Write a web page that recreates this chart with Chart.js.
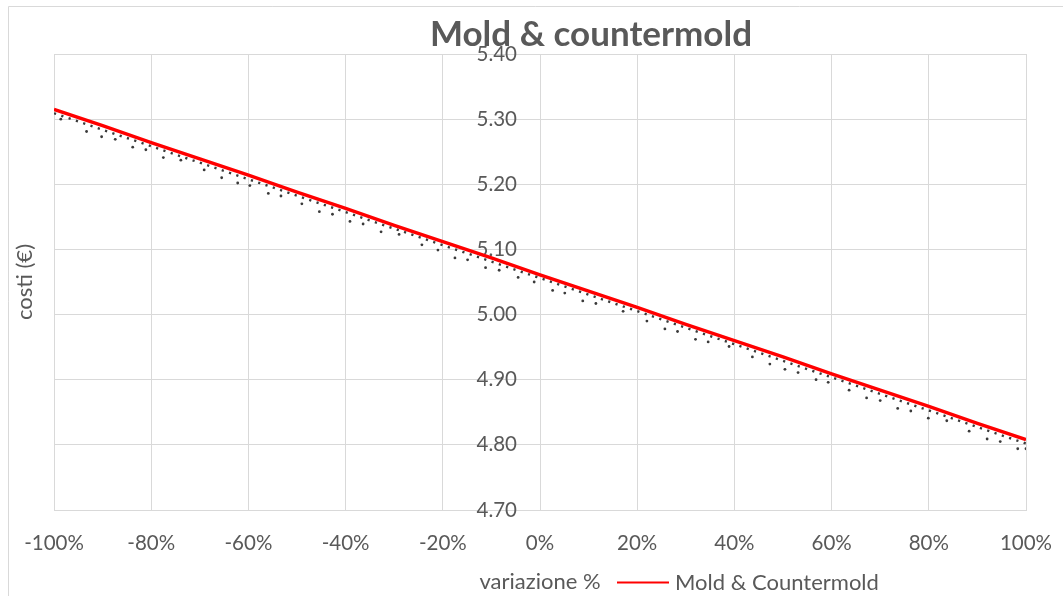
<!DOCTYPE html>
<html><head><meta charset="utf-8">
<script src="https://cdn.jsdelivr.net/npm/chart.js@4.4.0/dist/chart.umd.min.js"></script>
<style>html,body{margin:0;padding:0;background:#fff;}</style>
</head><body>
<canvas id="c" width="1063" height="596"></canvas>
<script>
const titleText = 'Mold & countermold';
const xTitle = 'variazione %';
const yTitle = 'costi (€)';
const seriesName = 'Mold & Countermold';

const xTicks = [-100, -80, -60, -40, -20, 0, 20, 40, 60, 80, 100];
const yTicks = [4.70, 4.80, 4.90, 5.00, 5.10, 5.20, 5.30, 5.40];

// red series: Mold & Countermold
const varX = [-100, -90, -80, -70, -60, -50, -40, -30, -20, -10, 0, 10, 20, 30, 40, 50, 60, 70, 80, 90, 100];
const moldValues = [5.315, 5.290, 5.264, 5.239, 5.214, 5.188, 5.163, 5.137, 5.112, 5.087, 5.061, 5.036, 5.011, 4.985, 4.960, 4.935, 4.909, 4.884, 4.859, 4.833, 4.808];

// black dotted series (main row)
const dotX = [-100, 0, 100];
const dotY = [5.309, 5.056, 4.802];

// black dotted series (lower dots)
const dipX = [-98.6, -93.3, -90.2, -87.4, -83.8, -81.1, -77.5, -73.9, -69.1, -65.5, -62.2, -59.7, -55.9, -53.3, -49.0, -45.4, -42.7, -39.1, -36.4, -32.7, -29.0, -24.3, -21.0, -17.5, -14.9, -11.2, -8.4, -4.5, -1.2, 2.6, 5.1, 8.8, 11.5, 17.1, 22.0, 25.7, 28.3, 32.0, 34.6, 38.9, 43.7, 47.3, 50.4, 53.1, 56.8, 59.3, 63.6, 67.2, 70.0, 73.6, 76.3, 79.9, 83.7, 88.3, 92.0, 94.7, 98.3, 100];
const dipY = [5.300, 5.281, 5.273, 5.269, 5.257, 5.253, 5.241, 5.237, 5.222, 5.210, 5.202, 5.198, 5.186, 5.182, 5.170, 5.158, 5.154, 5.143, 5.139, 5.127, 5.123, 5.107, 5.099, 5.087, 5.084, 5.072, 5.068, 5.057, 5.050, 5.037, 5.033, 5.021, 5.017, 5.005, 4.990, 4.978, 4.974, 4.962, 4.958, 4.951, 4.935, 4.924, 4.916, 4.911, 4.900, 4.896, 4.884, 4.872, 4.868, 4.856, 4.852, 4.841, 4.837, 4.821, 4.809, 4.805, 4.794, 4.794];

const FONT = 'Lato';
const TXT = '#595959';
const GRID = '#d9d9d9';
const TITLE_CENTER_X = 591;

const frame = {
  id: 'frame',
  beforeDraw(chart) {
    const ctx = chart.ctx;
    ctx.save();
    ctx.fillStyle = '#fff';
    ctx.fillRect(0, 0, chart.width, chart.height);
    ctx.strokeStyle = GRID;
    ctx.lineWidth = 1;
    ctx.beginPath();
    ctx.moveTo(8.5, chart.height);
    ctx.lineTo(8.5, 6.5);
    ctx.lineTo(chart.width, 6.5);
    ctx.stroke();
    ctx.restore();
  }
};

const titleShift = {
  id: 'titleShift',
  afterLayout(chart) {
    const t = chart.titleBlock;
    if (!t) return;
    const shift = TITLE_CENTER_X - (t.left + t.right) / 2;
    t.left += shift;
    t.right += shift;
  }
};

const legendBox = {
  id: 'legendBox',
  afterDraw(chart) {
    const ctx = chart.ctx;
    const ds = chart.data.datasets[0];
    ctx.save();
    ctx.strokeStyle = ds.borderColor;
    ctx.lineWidth = 2;
    ctx.beginPath();
    ctx.moveTo(617, 582.5);
    ctx.lineTo(669, 582.5);
    ctx.stroke();
    ctx.fillStyle = TXT;
    ctx.font = '22px ' + FONT;
    ctx.textBaseline = 'middle';
    ctx.textAlign = 'left';
    ctx.fillText(ds.label, 675, 583);
    ctx.restore();
  }
};

new Chart(document.getElementById('c'), {
  type: 'line',
  data: {
    datasets: [
      {
        label: seriesName,
        data: varX.map((x, i) => ({x, y: moldValues[i]})),
        borderColor: '#ff0000',
        borderWidth: 3.5,
        pointRadius: 0,
        tension: 0
      },
      {
        label: 'dots',
        data: dotX.map((x, i) => ({x, y: dotY[i]})),
        borderColor: '#3a3a3a',
        borderWidth: 2.4,
        borderDash: [2.2, 5.5],
        pointRadius: 0,
        tension: 0
      },
      {
        label: 'dips',
        data: dipX.map((x, i) => ({x, y: dipY[i]})),
        showLine: false,
        pointRadius: 1.4,
        pointBorderWidth: 0,
        pointBackgroundColor: '#3a3a3a',
        borderColor: '#3a3a3a'
      }
    ]
  },
  options: {
    responsive: false,
    animation: false,
    devicePixelRatio: 1,
    layout: { padding: { left: 11.8, right: 37, top: 0, bottom: 1 } },
    plugins: {
      legend: { display: false },
      tooltip: { enabled: false },
      title: {
        display: true,
        text: titleText,
        color: TXT,
        font: { family: FONT, size: 35, weight: 'bold' },
        padding: { top: 14, bottom: -2 }
      }
    },
    scales: {
      x: {
        type: 'linear',
        position: 'bottom',
        min: -100, max: 100,
        afterBuildTicks: s => { s.ticks = xTicks.map(v => ({value: v})); },
        afterFit: s => { s.height = 85; s.paddingLeft = 0; s.paddingRight = 0; },
        ticks: {
          color: TXT, font: { family: FONT, size: 20.5 }, padding: 21,
          maxRotation: 0, autoSkip: false,
          callback: v => v + '%'
        },
        grid: { color: GRID, lineWidth: 1, drawTicks: false },
        border: { color: GRID, width: 1 },
        title: { display: true, text: xTitle, color: TXT, font: { family: FONT, size: 22 }, padding: { top: 0, bottom: 0 } }
      },
      y: {
        type: 'linear',
        position: { x: -4.73 },
        min: 4.70, max: 5.40,
        afterBuildTicks: s => { s.ticks = yTicks.map(v => ({value: v})); },
        afterFit: s => { s.width = 0; },
        ticks: {
          color: TXT, font: { family: FONT, size: 20.5 }, padding: 0,
          callback: v => Number(v).toFixed(2)
        },
        grid: { color: GRID, lineWidth: 1, drawTicks: false },
        border: { display: false }
      },
      yl: {
        type: 'linear',
        position: 'left',
        min: 0, max: 1,
        ticks: { display: false },
        grid: { display: false, drawTicks: false },
        border: { display: false },
        title: { display: true, text: yTitle, color: TXT, font: { family: FONT, size: 22 }, padding: { top: 0, bottom: 15.8 } }
      }
    }
  },
  plugins: [frame, titleShift, legendBox]
});
</script>
</body></html>
